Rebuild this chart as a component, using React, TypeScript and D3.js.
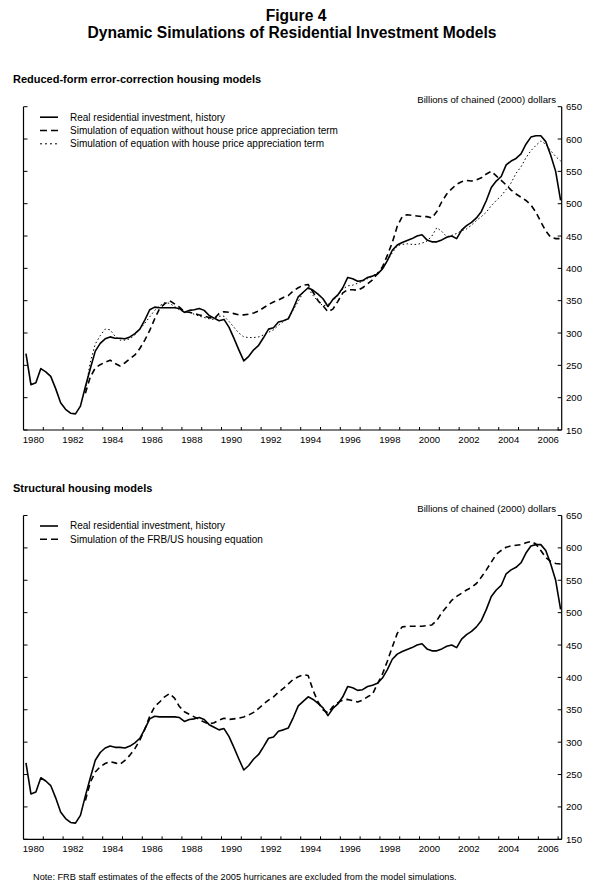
import * as d3 from 'd3';

// quarterly, 1980Q1 .. 2007Q1, billions of chained (2000) dollars
const history = [
  268, 220, 223, 245, 240, 233, 214, 192, 182, 176, 175, 187,
  217, 245, 272, 284, 291, 294, 292, 292, 291, 294, 299, 306,
  320, 336, 340, 339, 339, 339, 339, 338, 332, 335, 336, 338,
  335, 327, 323, 319, 321, 309, 292, 274, 257, 264, 274, 281,
  293, 306, 308, 317, 319, 322, 338, 356, 363, 370, 366, 360,
  353, 341, 352, 359, 370, 386, 384, 380, 381, 386, 388, 391,
  399, 412, 428, 436, 440, 443, 446, 450, 452, 444, 441, 441,
  444, 448, 450, 446, 459, 466, 471, 478, 488, 505, 525, 535,
  542, 560, 566, 570, 577, 592, 603, 605, 605, 596, 575, 550,
  505,
];

// simulations start 1983Q1
const simWithoutHpa = [
  207, 232, 246, 251, 255, 258, 253, 249, 254, 260, 266, 276,
  289, 304, 322, 338, 345, 350, 345, 340, 333, 332, 330, 328,
  326, 324, 322, 330, 333, 332, 330, 328, 328, 329, 331, 334,
  339, 344, 348, 351, 355, 358, 365, 370, 374, 375, 363, 350,
  342, 333, 337, 349, 362, 367, 367, 366, 370, 376, 382, 392,
  402, 420, 440, 465, 480, 483, 482, 481, 480, 480, 478, 488,
  503, 515, 523, 530, 534, 536, 535, 537, 540, 546, 550, 543,
  536, 529, 521, 515, 510, 505, 498, 487, 472, 458, 448, 446,
  446,
];

const simWithHpa = [
  212, 255, 283, 296, 306, 305, 295, 289, 289, 291, 297, 306,
  315, 325, 335, 342, 347, 346, 341, 336, 332, 332, 329, 326,
  324, 322, 321, 326, 326, 318, 309, 300, 294, 293, 293, 294,
  297, 301, 305, 312, 318, 324, 336, 349, 363, 369, 358, 349,
  342, 344, 350, 358, 368, 373, 374, 377, 380, 384, 388, 393,
  398, 412, 424, 435, 437, 438, 437, 437, 439, 442, 450, 463,
  457, 449, 451, 454, 458, 461, 467, 474, 480, 487, 497, 505,
  512, 522, 532, 547, 557, 571, 582, 590, 597, 592, 582, 573,
  566,
];

const simFrbus = [
  210, 238, 254, 262, 267, 270, 268, 266, 272, 280, 290, 303,
  320, 340, 355, 362, 370, 375, 368, 355, 347, 343, 339, 335,
  331, 328, 330, 334, 337, 335, 336, 337, 339, 342, 346, 352,
  359, 365, 370, 377, 383, 390, 397, 401, 404, 403, 380, 362,
  350, 345, 355, 361, 365, 366, 364, 362, 365, 370, 374, 390,
  405, 425, 447, 468, 478, 479, 479, 479, 479, 480, 481, 488,
  500, 509, 519, 525, 530, 535, 539, 545, 555, 566, 578, 590,
  596, 601, 603, 604, 605, 608, 610, 606, 596, 585, 579, 576,
  575,
];

const yearLabels = ['1980', '1982', '1984', '1986', '1988', '1990', '1992',
  '1994', '1996', '1998', '2000', '2002', '2004', '2006'];
const valueTicks = [150, 200, 250, 300, 350, 400, 450, 500, 550, 600, 650];

const W = 597;
const H = 895;
const FONT = '"Liberation Sans", Arial, Helvetica, sans-serif';

type Style = 'solid' | 'dashed' | 'dotted';
interface Series { label: string; values: number[]; start: number; style: Style; }

const strokeFor = (s: Style) =>
  s === 'solid' ? { w: 1.6, dash: undefined }
  : s === 'dashed' ? { w: 1.6, dash: '6,4' }
  : { w: 1, dash: '1.5,2.5' };

const x = d3.scaleLinear().domain([1980, 2007.18]).range([23.5, 561.7]);

function Panel({ top, bottom, title, series }: { top: number; bottom: number; title: string; series: Series[] }) {
  const y = d3.scaleLinear().domain([150, 650]).range([bottom, top]);
  const line = d3.line<[number, number]>().x(d => x(d[0])).y(d => y(d[1]));
  const left = x.range()[0];
  const right = x.range()[1];
  const years = d3.range(1981, 2008).filter(yr => x(yr) < right - 2);

  return (
    <g>
      <text x={13} y={top - 24} fontSize={11} fontWeight="bold">{title}</text>
      <text x={556} y={top - 4} fontSize={9.6} textAnchor="end">Billions of chained (2000) dollars</text>

      {series.map((s, i) => {
        const st = strokeFor(s.style);
        const pts = s.values.map((v, j) => [s.start + j / 4 + 0.125, v] as [number, number]);
        return (
          <path key={i} d={line(pts) || ''} fill="none" stroke="#000"
            strokeWidth={st.w} strokeDasharray={st.dash} strokeLinejoin="round" />
        );
      })}

      {/* axes */}
      <line x1={left} x2={left} y1={top} y2={bottom} stroke="#000" strokeWidth={1.2} />
      <line x1={right} x2={right} y1={top} y2={bottom} stroke="#000" strokeWidth={1.2} />
      <line x1={left} x2={right} y1={bottom} y2={bottom} stroke="#000" strokeWidth={1.2} />
      {valueTicks.map(v => (
        <g key={v}>
          <line x1={left} x2={left + 4} y1={y(v)} y2={y(v)} stroke="#000" strokeWidth={1} />
          <line x1={right - 4} x2={right} y1={y(v)} y2={y(v)} stroke="#000" strokeWidth={1} />
          <text x={566} y={y(v) + 3.5} fontSize={9.6}>{v}</text>
        </g>
      ))}
      {years.map(yr => (
        <line key={yr} x1={x(yr)} x2={x(yr)} y1={bottom} y2={bottom - 3} stroke="#000" strokeWidth={1} />
      ))}
      {yearLabels.map(l => (
        <text key={l} x={x(+l + 0.5)} y={bottom + 12.5} fontSize={9.6} textAnchor="middle">{l}</text>
      ))}

      {/* legend */}
      {series.map((s, i) => {
        const st = strokeFor(s.style);
        const ly = top + 10.5 + i * 13.3;
        return (
          <g key={i}>
            <line x1={40} x2={58} y1={ly} y2={ly} stroke="#000" strokeWidth={st.w}
              strokeDasharray={s.style === 'dashed' ? '7,4' : s.style === 'dotted' ? '2,3' : undefined} />
            <text x={70} y={ly + 3.4} fontSize={10}>{s.label}</text>
          </g>
        );
      })}
    </g>
  );
}

export default function App() {
  const topSeries: Series[] = [
    { label: 'Real residential investment, history', values: history, start: 1980, style: 'solid' },
    { label: 'Simulation of equation without house price appreciation term', values: simWithoutHpa, start: 1983, style: 'dashed' },
    { label: 'Simulation of equation with house price appreciation term', values: simWithHpa, start: 1983, style: 'dotted' },
  ];
  const bottomSeries: Series[] = [
    { label: 'Real residential investment, history', values: history, start: 1980, style: 'solid' },
    { label: 'Simulation of the FRB/US housing equation', values: simFrbus, start: 1983, style: 'dashed' },
  ];

  return (
    <svg width={W} height={H} viewBox={`0 0 ${W} ${H}`}
      style={{ position: 'absolute', left: 0, top: 0, background: '#fff', fontFamily: FONT }}>
      <rect width={W} height={H} fill="#fff" />
      <text x={296} y={21} fontSize={15.6} fontWeight="bold" textAnchor="middle">Figure 4</text>
      <text x={292} y={38} fontSize={15.6} fontWeight="bold" textAnchor="middle">Dynamic Simulations of Residential Investment Models</text>

      <Panel top={106.7} bottom={430} title="Reduced-form error-correction housing models" series={topSeries} />
      <Panel top={515.5} bottom={839.3} title="Structural housing models" series={bottomSeries} />

      <text x={33} y={880} fontSize={9.2}>Note: FRB staff estimates of the effects of the 2005 hurricanes are excluded from the model simulations.</text>
    </svg>
  );
}
